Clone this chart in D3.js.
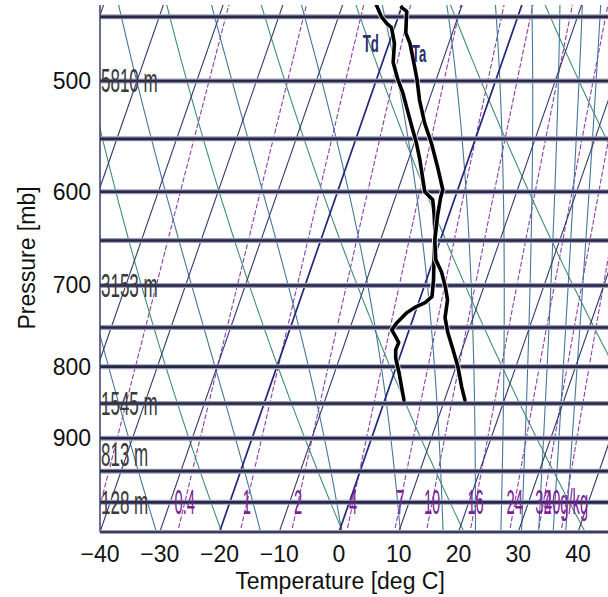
<!DOCTYPE html>
<html><head><meta charset="utf-8">
<script src="https://cdn.jsdelivr.net/npm/d3@7"></script>
<style>
html,body{margin:0;padding:0;background:#fff;}
svg{display:block;font-family:"Liberation Sans",Arial,sans-serif;}
</style></head><body>
<svg id="chart" width="608" height="597"></svg>
<script>
// Sounding profile: air temperature (Ta) and dew point (Td), deg C vs pressure (mb)
const taPressure = [443,446,462,470,489,499,516,536,554,576,598,606,623,650,671,685,702,717,738,756,778,800,827,845];
const taTemp     = [-20.0,-18.9,-17.8,-16.5,-14.3,-13.2,-11.6,-9.4,-7.1,-4.7,-2.5,-2.4,-1.9,-0.9,0.4,2.1,3.6,4.7,5.3,6.6,8.5,10.3,12.1,13.4];
const tdPressure = [441,450,455,458,470,485,499,510,525,542,554,569,586,600,608,623,642,671,694,713,720,725,732,745,753,762,769,778,789,808,831,845];
const tdTemp     = [-24.4,-22.8,-21.5,-20.5,-19.1,-18.2,-16.4,-14.8,-13.0,-11.0,-9.6,-8.1,-6.6,-5.4,-3.6,-2.5,-1.3,0.1,1.2,1.9,1.1,-0.2,-1.4,-2.5,-2.9,-1.8,-1.0,-1.1,-0.6,0.8,2.3,3.2];

// Background diagram families
const isobarLevels    = [450,500,550,600,650,700,750,800,850,900,950,1000];
const isotherms       = [-120,-110,-100,-90,-80,-70,-60,-50,-40,-30,-20,-10,0,10,20,30,40,50];
const strongIsotherms = [-20,0];
const dryAdiabats     = [230,250,270,290,310,330,350,370,390];          // potential temperature, K
const moistAdiabats   = [240,260,280,300,320,340,360,380,400,420,440];  // equivalent potential temperature, K
const mixingRatios    = [0.1,0.4,1,2,4,7,10,16,24,32,40];               // g/kg
const mixingLabelValues = [0.4,1,2,4,7,10,16,24,32,40];
const mixingLabelText   = ["0.4","1","2","4","7","10","16","24","32","40g/kg"];

// Geopotential heights of standard levels
const heightLevels = [500,700,850,925,1000];
const heightText   = ["5810 m","3153 m","1545 m","813 m","128 m"];

// Axes
const pressureTicks = [500,600,700,800,900];
const tempTicks     = [-40,-30,-20,-10,0,10,20,30,40];

const svg = d3.select("#chart");
const plot = {left:100, right:608, top:5, bottom:532};
const pBase = 1050, pTop = 441.3, skew = 35.3;

const y = d3.scaleLog().domain([pBase, pTop]).range([plot.bottom, plot.top]);
const x = d3.scaleLinear().domain([-40, 40]).range([100, 578]);
const sx = (T, p) => x(T + skew * Math.log(pBase / p));

svg.append("defs").append("clipPath").attr("id","plotClip")
  .append("rect").attr("x",plot.left).attr("y",plot.top)
  .attr("width",plot.right-plot.left).attr("height",plot.bottom-plot.top);

const g = svg.append("g").attr("clip-path","url(#plotClip)");
const line = d3.line().x(d => sx(d.T, d.p)).y(d => y(d.p));

// pressure sampling grid for the curved families
const pGrid = [];
for (let p = pBase + 5; p >= pTop - 5; p -= 5) pGrid.push(p);

// saturation vapour pressure (hPa) and its inverse
const esat = Tc => 6.112 * Math.exp(17.67 * Tc / (Tc + 243.5));
const dewFromE = e => { const l = Math.log(e / 6.112); return 243.5 * l / (17.67 - l); };

// mixing ratio lines
mixingRatios.forEach(w => {
  const pts = pGrid.map(p => ({p, T: dewFromE(w * p / (622 + w))}));
  g.append("path").attr("d", line(pts)).attr("fill","none")
    .attr("stroke","#8e3ea8").attr("stroke-width",1.1).attr("stroke-dasharray","5,2");
});

// dry adiabats
dryAdiabats.forEach(th => {
  const pts = pGrid.map(p => ({p, T: th * Math.pow(p / 1000, 0.2857) - 273.15}));
  g.append("path").attr("d", line(pts)).attr("fill","none")
    .attr("stroke","#3f8f72").attr("stroke-width",1.1);
});

// saturated pseudo-adiabats, identified by equivalent potential temperature
function dTdp(T, p) {
  const Rd = 287.04, cp = 1005.7, Lv = 2.501e6, eps = 0.622;
  const es = esat(T - 273.15);
  const rs = eps * es / (p - es);
  return (1 / p) * (Rd * T + Lv * rs) / (cp + Lv * Lv * rs * eps / (Rd * T * T));
}
function thetaESat(Tk, p) {
  const es = esat(Tk - 273.15), r = 0.622 * es / (p - es);
  return Tk * Math.pow(1000 / p, 0.2854 * (1 - 0.28 * r)) *
         Math.exp((3376 / Tk - 2.54) * r * (1 + 0.81 * r));
}
function startTemp(thE) {   // saturated temperature at 1000 mb with the given theta-e
  let lo = 180, hi = 330;
  for (let i = 0; i < 60; i++) {
    const mid = (lo + hi) / 2;
    if (thetaESat(mid, 1000) > thE) hi = mid; else lo = mid;
  }
  return (lo + hi) / 2;
}
function moistCurve(thE) {
  const step = (T, p, dp) => {
    const k1 = dTdp(T, p), k2 = dTdp(T + k1 * dp / 2, p + dp / 2),
          k3 = dTdp(T + k2 * dp / 2, p + dp / 2), k4 = dTdp(T + k3 * dp, p + dp);
    return T + dp * (k1 + 2 * k2 + 2 * k3 + k4) / 6;
  };
  const T0 = startTemp(thE);
  let T = T0, p = 1000;
  const up = [{p, T: T0 - 273.15}];
  while (p > pTop - 5) { T = step(T, p, -2.5); p -= 2.5; up.push({p, T: T - 273.15}); }
  T = T0; p = 1000;
  const down = [];
  while (p < pBase + 5) { T = step(T, p, 2.5); p += 2.5; down.push({p, T: T - 273.15}); }
  return down.reverse().concat(up);
}
moistAdiabats.forEach(thE => {
  g.append("path").attr("d", line(moistCurve(thE))).attr("fill","none")
    .attr("stroke","#45779a").attr("stroke-width",1.1);
});

// isotherms
isotherms.forEach(t => {
  const strong = strongIsotherms.includes(t);
  g.append("path").attr("d", line([{p:pBase + 5, T:t}, {p:pTop - 5, T:t}])).attr("fill","none")
    .attr("stroke", strong ? "#25267a" : "#34386e").attr("stroke-width", strong ? 1.7 : 1.1);
});

// isobars
isobarLevels.forEach(p => {
  g.append("line").attr("x1",plot.left).attr("x2",plot.right).attr("y1",y(p)).attr("y2",y(p))
    .attr("stroke","#9c9cb6").attr("stroke-width",5);
  g.append("line").attr("x1",plot.left).attr("x2",plot.right).attr("y1",y(p)).attr("y2",y(p))
    .attr("stroke","#27274a").attr("stroke-width",2.6);
});

// frame
svg.append("line").attr("x1",plot.left).attr("x2",plot.left).attr("y1",plot.top).attr("y2",plot.bottom)
  .attr("stroke","#3a3c6e").attr("stroke-width",1.5);
svg.append("line").attr("x1",plot.left).attr("x2",plot.right).attr("y1",plot.bottom).attr("y2",plot.bottom)
  .attr("stroke","#9c9cb6").attr("stroke-width",4);
svg.append("line").attr("x1",plot.left).attr("x2",plot.right).attr("y1",plot.bottom).attr("y2",plot.bottom)
  .attr("stroke","#3c3c62").attr("stroke-width",2);

// mixing ratio labels along 1000 mb
const labels = svg.append("g");
mixingLabelValues.forEach((w, i) => {
  const xp = sx(dewFromE(w * 1000 / (622 + w)), 1000);
  labels.append("text")
    .attr("transform", `translate(${xp},${y(1000)}) scale(0.42,1)`)
    .attr("text-anchor","middle").attr("dominant-baseline","central")
    .attr("font-size",35).attr("fill","#7d1f98").text(mixingLabelText[i]);
});

// height labels
heightLevels.forEach((p, i) => {
  labels.append("text")
    .attr("transform", `translate(${plot.left + 1},${y(p)}) scale(0.5,1)`)
    .attr("dominant-baseline","central")
    .attr("font-size",34).attr("fill","#3a3a3a").text(heightText[i]);
});

// sounding curves
const soundingLine = d3.line().x(d => sx(d.T, d.p)).y(d => y(d.p));
const ta = taPressure.map((p, i) => ({p, T: taTemp[i]}));
const td = tdPressure.map((p, i) => ({p, T: tdTemp[i]}));
[td, ta].forEach(data => {
  g.append("path").attr("d", soundingLine(data)).attr("fill","none")
    .attr("stroke","#ffffff").attr("stroke-width",5.5).attr("stroke-linejoin","round").attr("opacity",0.7);
  g.append("path").attr("d", soundingLine(data)).attr("fill","none")
    .attr("stroke","#000000").attr("stroke-width",3.6).attr("stroke-linejoin","round").attr("stroke-linecap","round");
});

// curve labels
labels.append("text").attr("transform", `translate(${sx(-23.9, 476.7)},${y(476.7)}) scale(0.55,1)`)
  .attr("font-size",24).attr("font-weight","bold").attr("fill","#2c2c6c").text("Td");
labels.append("text").attr("transform", `translate(${sx(-15.1, 484.6)},${y(484.6)}) scale(0.55,1)`)
  .attr("font-size",24).attr("font-weight","bold").attr("fill","#2c2c6c").text("Ta");

// axes tick labels
const axisG = svg.append("g").attr("fill","#111").attr("font-size",23);
pressureTicks.forEach(p => {
  axisG.append("text").attr("x",91).attr("y",y(p)).attr("text-anchor","end")
    .attr("dominant-baseline","central").text(p);
});
tempTicks.forEach(t => {
  axisG.append("text").attr("x",x(t)).attr("y",562).attr("text-anchor","middle")
    .text(t < 0 ? "\u2212" + Math.abs(t) : String(t));
});
svg.append("text").attr("x",340).attr("y",589).attr("text-anchor","middle")
  .attr("font-size",23).attr("fill","#111").text("Temperature [deg C]");
svg.append("text").attr("transform","translate(35,258) rotate(-90)").attr("text-anchor","middle")
  .attr("font-size",23).attr("fill","#111").text("Pressure [mb]");
</script></body></html>
